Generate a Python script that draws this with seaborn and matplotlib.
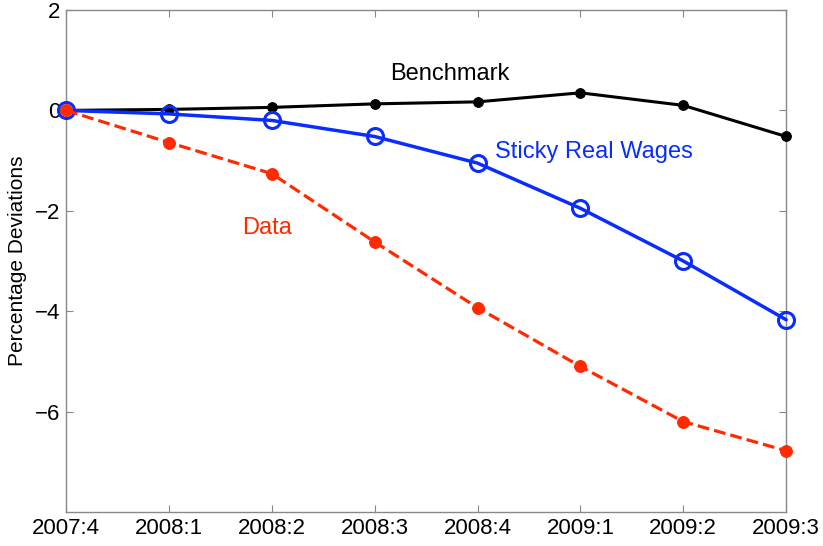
import matplotlib
matplotlib.use("Agg")
import matplotlib.pyplot as plt
import seaborn as sns
import pandas as pd

quarters = ["2007:4", "2008:1", "2008:2", "2008:3", "2008:4", "2009:1", "2009:2", "2009:3"]
benchmark = [0.0, 0.02, 0.06, 0.13, 0.17, 0.35, 0.10, -0.52]
sticky = [0.0, -0.07, -0.20, -0.52, -1.05, -1.95, -3.00, -4.17]
data = [0.0, -0.64, -1.26, -2.62, -3.93, -5.10, -6.20, -6.78]

sns.set_style("white")
plt.rcParams['font.family'] = ['Liberation Sans', 'DejaVu Sans']
plt.rcParams['text.color'] = 'black'
plt.rcParams['axes.labelcolor'] = 'black'
plt.rcParams['xtick.color'] = 'black'
plt.rcParams['ytick.color'] = 'black'

fig = plt.figure(figsize=(8.23, 5.46), dpi=100)
ax = fig.add_axes([0.0802, 0.0623, 0.875, 0.9194])

idx = list(range(len(quarters)))
df = pd.DataFrame({"q": idx, "bench": benchmark, "sticky": sticky, "data": data})

red = "#ff2a00"
blue = "#0a2cff"

sns.lineplot(data=df, x="q", y="bench", ax=ax, color="black", lw=2.2,
             marker="o", markersize=7, markeredgecolor="black", zorder=3, clip_on=False)
sns.lineplot(data=df, x="q", y="sticky", ax=ax, color=blue, lw=2.5,
             marker="o", markersize=11.5, markerfacecolor="none",
             markeredgecolor=blue, markeredgewidth=2.2, zorder=4, clip_on=False)
sns.lineplot(data=df, x="q", y="data", ax=ax, color=red, lw=2.3,
             linestyle="--", marker="o", markersize=8.5, markeredgecolor=red, zorder=5, clip_on=False)

ax.set_xlim(0, len(quarters) - 1)
ax.set_ylim(-8, 2)
ax.set_xticks(idx)
ax.set_xticklabels(quarters)
ax.set_yticks([-6, -4, -2, 0, 2])
ax.set_yticklabels(["\u22126", "\u22124", "\u22122", "0", "2"])
ax.set_xlabel("")
ax.set_ylabel("Percentage Deviations", fontsize=15, labelpad=6)
ax.tick_params(axis="both", labelsize=16, direction="in", length=5,
               top=True, right=True, bottom=True, left=True, pad=4)
ax.tick_params(axis="both", which="major", color="#888888")
for s in ax.spines.values():
    s.set_visible(True)
    s.set_color("#888888")
    s.set_linewidth(1)

ax.text(3.73, 0.72, "Benchmark", fontsize=17, color="black", ha="center", va="center")
ax.text(4.17, -0.82, "Sticky Real Wages", fontsize=17, color=blue, ha="left", va="center")
ax.text(1.95, -2.35, "Data", fontsize=17, color=red, ha="center", va="center")

fig.savefig("out.png", dpi=100)
